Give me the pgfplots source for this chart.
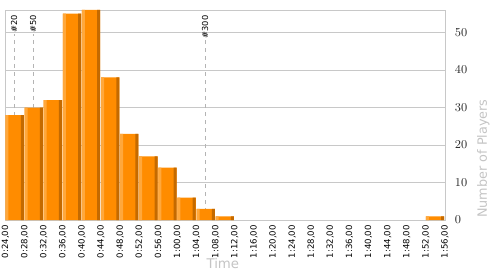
\documentclass[border=0pt]{standalone}
\usepackage{pgfplots}
\pgfplotsset{compat=1.18}
\usepackage{fontspec}
\setmainfont{DejaVu Sans}
\setsansfont{DejaVu Sans}
\definecolor{barmain}{HTML}{FF8C00}
\definecolor{barlight}{HTML}{FFA83C}
\definecolor{bardark}{HTML}{C46A00}
\definecolor{gridc}{HTML}{C8C8C8}
\definecolor{labc}{HTML}{C4C4C4}
\pgfplotstableread{
x y
26 28
30 30
34 32
38 55
42 56
46 38
50 23
54 17
58 14
62 6
66 3
70 1
114 1
}\bins
\begin{document}
\begin{tikzpicture}
\useasboundingbox (-4.125pt,-41.25pt) rectangle (370.875pt,165pt);
\begin{axis}[
  at={(0,0)}, anchor=south west,
  scale only axis, width=329.6pt, height=157.5pt,
  xmin=24, xmax=116, ymin=0, ymax=56,
  axis line style={gridc},
  ymajorgrids, grid style={gridc, line width=0.6pt},
  ytick={0,10,20,30,40,50},
  yticklabel pos=right,
  major tick length=0pt,
  yticklabel style={font=\fontsize{8.8pt}{9pt}\selectfont, text=black!85, xshift=4pt},
  xtick={24,28,...,116},
  xticklabels={0:24{,}00,0:28{,}00,0:32{,}00,0:36{,}00,0:40{,}00,0:44{,}00,0:48{,}00,0:52{,}00,0:56{,}00,1:00{,}00,1:04{,}00,1:08{,}00,1:12{,}00,1:16{,}00,1:20{,}00,1:24{,}00,1:28{,}00,1:32{,}00,1:36{,}00,1:40{,}00,1:44{,}00,1:48{,}00,1:52{,}00,1:56{,}00},
  xticklabel style={rotate=90, anchor=east, font=\fontsize{6.4pt}{7pt}\selectfont, text=black, xshift=-0.5pt, yshift=0pt},
  clip=false,
]
\addplot[gridc!90!black, dashed, line width=0.6pt] coordinates {(25.8,0) (25.8,49.6)}
  node[pos=1, rotate=90, anchor=west, text=black, font=\fontsize{6.2pt}{7pt}\selectfont, inner sep=1pt] {\#20};
\addplot[gridc!90!black, dashed, line width=0.6pt] coordinates {(29.76,0) (29.76,49.6)}
  node[pos=1, rotate=90, anchor=west, text=black, font=\fontsize{6.2pt}{7pt}\selectfont, inner sep=1pt] {\#50};
\addplot[gridc!90!black, dashed, line width=0.6pt] coordinates {(65.78,0) (65.78,48)}
  node[pos=1, rotate=90, anchor=west, text=black, font=\fontsize{6.2pt}{7pt}\selectfont, inner sep=1pt] {\#300};
\addplot[ybar, bar width=3.83, bar shift=-0.085, fill=barmain, draw=none] table[x=x,y=y] {\bins};
\addplot[ybar, bar width=0.63, bar shift=-1.69, fill=barlight, draw=none] table[x=x,y=y] {\bins};
\addplot[ybar, bar width=0.63, bar shift=1.51, fill=bardark, draw=none] table[x=x,y=y] {\bins};
\end{axis}
\node[text=labc, font=\fontsize{10pt}{12pt}\selectfont] at (163pt,-33pt) {Time};
\node[rotate=90, anchor=west, text=labc, font=\fontsize{9.6pt}{11pt}\selectfont, inner sep=0pt] at (358.4pt,1.5pt) {Number of Players};
\end{tikzpicture}
\end{document}
